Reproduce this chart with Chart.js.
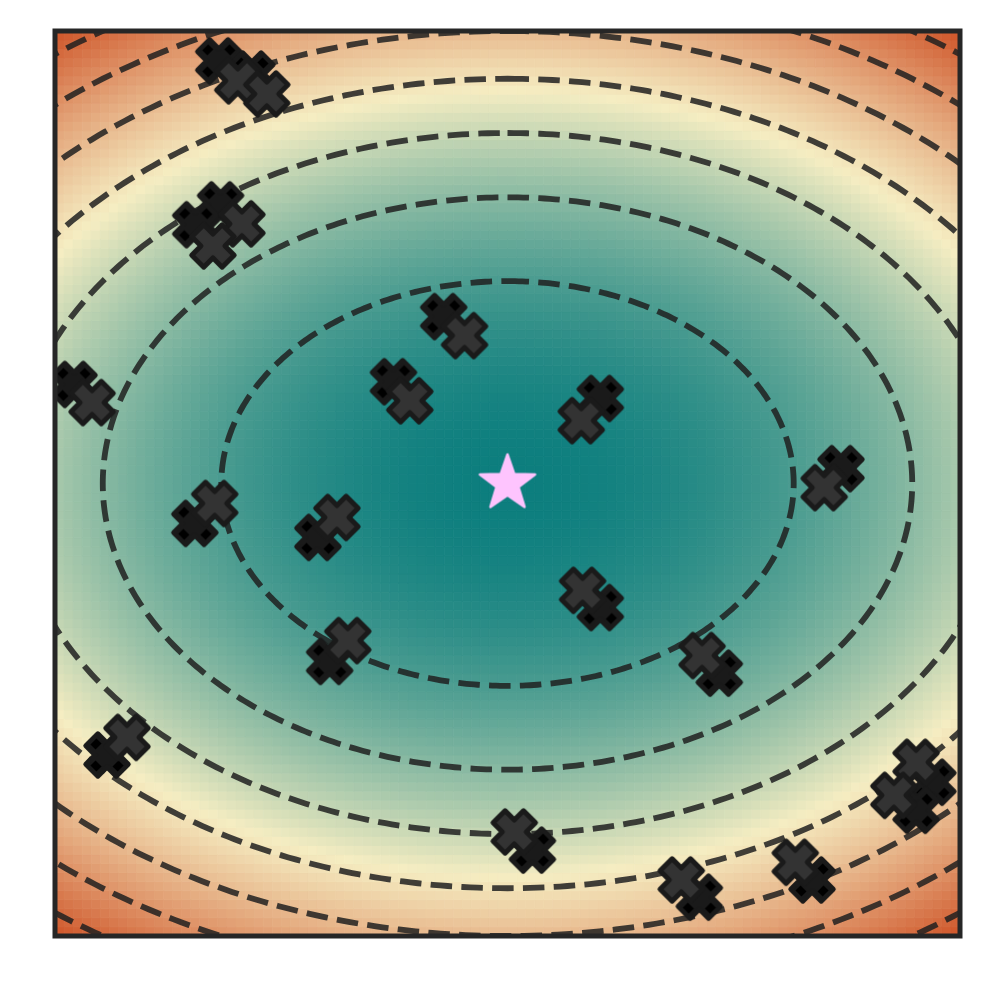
<!DOCTYPE html>
<html>
<head>
<meta charset="utf-8">
<script src="https://cdn.jsdelivr.net/npm/chart.js@4.4.1/dist/chart.umd.min.js"></script>
<style>
  html, body { margin: 0; padding: 0; background: #ffffff; }
  #wrap { width: 991px; height: 991px; }
</style>
</head>
<body>
<div id="wrap"><canvas id="c" width="991" height="991"></canvas></div>
<script>
// ---------------- data ----------------
// field: f(x, y) = FIELD_A * x^2 + FIELD_B * y^2 on [-1, 1] x [-1, 1]
const FIELD_A = 2.5;
const FIELD_B = 5.0;
const FIELD_MAX = 7.5;          // colour scale upper limit
const GRID_N = 100;             // heatmap cells per side
const contourLevels = [1, 2, 3, 4, 5, 6, 7];
const colorStops = [0, 0.5, 1];
const colorValues = ['#0c7e7e', '#f5edc2', '#cf5428'];

// current positions (grey crosses)
const pointX = [-0.596, -0.532, -0.587, -0.651, -0.095, 0.163, 0.903, 0.854, -0.918, -0.647,
                -0.377, -0.216, -0.353, 0.166, 0.430, 0.700, -0.841, 0.015, 0.384, 0.636];
const pointY = [0.890, 0.861, 0.574, 0.525, 0.327, 0.139, -0.616, -0.689, 0.179, -0.044,
                -0.075, 0.183, -0.347, -0.236, -0.380, -0.009, -0.561, -0.770, -0.876, -0.837];
// previous positions (dark crosses)
const prevX = [-0.638, -0.565, -0.634, -0.689, -0.141, 0.205, 0.940, 0.903, -0.958, -0.691,
               -0.419, -0.252, -0.393, 0.205, 0.468, 0.737, -0.885, 0.055, 0.424, 0.673];
const prevY = [0.934, 0.905, 0.616, 0.572, 0.369, 0.188, -0.660, -0.722, 0.219, -0.088,
               -0.119, 0.225, -0.393, -0.274, -0.419, 0.033, -0.600, -0.810, -0.914, -0.876];
// optimum
const optimumX = [0];
const optimumY = [0];

// ---------------- helpers ----------------
function fieldValue(x, y) { return FIELD_A * x * x + FIELD_B * y * y; }
function hexToRgb(h) { const n = parseInt(h.slice(1), 16); return [(n >> 16) & 255, (n >> 8) & 255, n & 255]; }
const stopRgb = colorValues.map(hexToRgb);
function cmap(t) {
  t = Math.max(0, Math.min(1, t));
  let i = 0;
  while (i < colorStops.length - 2 && t > colorStops[i + 1]) i++;
  const u = (t - colorStops[i]) / (colorStops[i + 1] - colorStops[i]);
  const a = stopRgb[i], b = stopRgb[i + 1];
  const c = a.map((v, k) => Math.round(v + (b[k] - v) * u));
  return 'rgb(' + c[0] + ',' + c[1] + ',' + c[2] + ')';
}

// heatmap cells
const cellStep = 2 / GRID_N;
const cellPts = [], cellCols = [];
for (let i = 0; i < GRID_N; i++) {
  for (let j = 0; j < GRID_N; j++) {
    const x = -1 + (i + 0.5) * cellStep, y = -1 + (j + 0.5) * cellStep;
    cellPts.push({ x, y });
    cellCols.push(cmap(fieldValue(x, y) / FIELD_MAX));
  }
}

// contour lines (level sets of the field)
function contourPoints(level) {
  const a = Math.sqrt(level / FIELD_A), b = Math.sqrt(level / FIELD_B);
  const pts = [];
  const n = 480;
  for (let k = 0; k <= n; k++) {
    const th = Math.PI / 2 - 2 * Math.PI * k / n;
    pts.push({ x: a * Math.cos(th), y: b * Math.sin(th) });
  }
  return pts;
}

// marker images
function plusPath(ctx, L, W) {
  ctx.beginPath();
  ctx.moveTo(-W, -L); ctx.lineTo(W, -L); ctx.lineTo(W, -W); ctx.lineTo(L, -W);
  ctx.lineTo(L, W); ctx.lineTo(W, W); ctx.lineTo(W, L); ctx.lineTo(-W, L);
  ctx.lineTo(-W, W); ctx.lineTo(-L, W); ctx.lineTo(-L, -W); ctx.lineTo(-W, -W);
  ctx.closePath();
}
function makeCross(fill, edge, tip) {
  const S = 66, cv = document.createElement('canvas');
  cv.width = S; cv.height = S;
  const ctx = cv.getContext('2d');
  ctx.translate(S / 2, S / 2);
  ctx.rotate(Math.PI / 4);
  plusPath(ctx, 21.5, 8.5);
  ctx.fillStyle = fill; ctx.fill();
  ctx.lineJoin = 'round'; ctx.lineWidth = 5; ctx.strokeStyle = edge; ctx.stroke();
  if (tip) {
    ctx.fillStyle = tip;
    for (let r = 0; r < 4; r++) {
      ctx.save(); ctx.rotate(r * Math.PI / 2);
      ctx.fillRect(12, -4.2, 7.2, 8.4);
      ctx.restore();
    }
  }
  return cv;
}
function makeStar(color) {
  const S = 70, cv = document.createElement('canvas');
  cv.width = S; cv.height = S;
  const ctx = cv.getContext('2d');
  ctx.translate(S / 2, S / 2);
  const R = 29, r = R * 0.4;
  ctx.beginPath();
  for (let k = 0; k < 10; k++) {
    const ang = -Math.PI / 2 + k * Math.PI / 5;
    const rr = k % 2 === 0 ? R : r;
    const px = rr * Math.cos(ang), py = rr * Math.sin(ang);
    if (k === 0) ctx.moveTo(px, py); else ctx.lineTo(px, py);
  }
  ctx.closePath();
  ctx.fillStyle = color; ctx.fill();
  ctx.lineJoin = 'round'; ctx.lineWidth = 2.5; ctx.strokeStyle = color; ctx.stroke();
  return cv;
}
const greyCross = makeCross('#333333', '#1a1a1a', null);
const darkCross = makeCross('#1a1a1a', '#1a1a1a', '#000000');
const starImg = makeStar('#fec4fe');

const zip = (xs, ys) => xs.map((x, i) => ({ x, y: ys[i] }));

// ---------------- datasets ----------------
const datasets = [];
datasets.push({
  label: 'optimum', data: zip(optimumX, optimumY), order: 0,
  pointStyle: starImg, pointRadius: 30, showLine: false
});
datasets.push({
  label: 'current', data: zip(pointX, pointY), order: 1,
  pointStyle: greyCross, pointRadius: 26, showLine: false
});
datasets.push({
  label: 'previous', data: zip(prevX, prevY), order: 2,
  pointStyle: darkCross, pointRadius: 26, showLine: false
});
contourLevels.forEach(lv => {
  datasets.push({
    label: 'level ' + lv, type: 'line', data: contourPoints(lv), order: 3,
    borderColor: 'rgba(32,32,32,0.85)', borderWidth: 5.8, borderDash: [21.5, 9.3],
    borderCapStyle: 'butt', pointRadius: 0, tension: 0, fill: false, clip: 0, showLine: true
  });
});
datasets.push({
  label: 'field', data: cellPts, order: 4, showLine: false, clip: 0,
  pointStyle: 'rect',
  pointRadius: (ctx) => {
    const s = ctx.chart.scales.x;
    return Math.abs(s.getPixelForValue(cellStep) - s.getPixelForValue(0)) / Math.SQRT2;
  },
  backgroundColor: cellCols, borderColor: cellCols, borderWidth: 0.8
});

const framePlugin = {
  id: 'frame',
  afterDatasetsDraw(chart) {
    const { ctx, chartArea: a } = chart;
    ctx.save();
    ctx.lineWidth = 5;
    ctx.strokeStyle = '#262626';
    ctx.strokeRect(a.left, a.top, a.right - a.left, a.bottom - a.top);
    ctx.restore();
  }
};

new Chart(document.getElementById('c'), {
  type: 'scatter',
  data: { datasets },
  options: {
    responsive: false,
    animation: false,
    events: [],
    layout: { padding: { left: 55, right: 30, top: 30, bottom: 55 } },
    plugins: { legend: { display: false }, tooltip: { enabled: false } },
    scales: {
      x: { type: 'linear', min: -1, max: 1, display: false },
      y: { type: 'linear', min: -1, max: 1, display: false }
    }
  },
  plugins: [framePlugin]
});
</script>
</body>
</html>
